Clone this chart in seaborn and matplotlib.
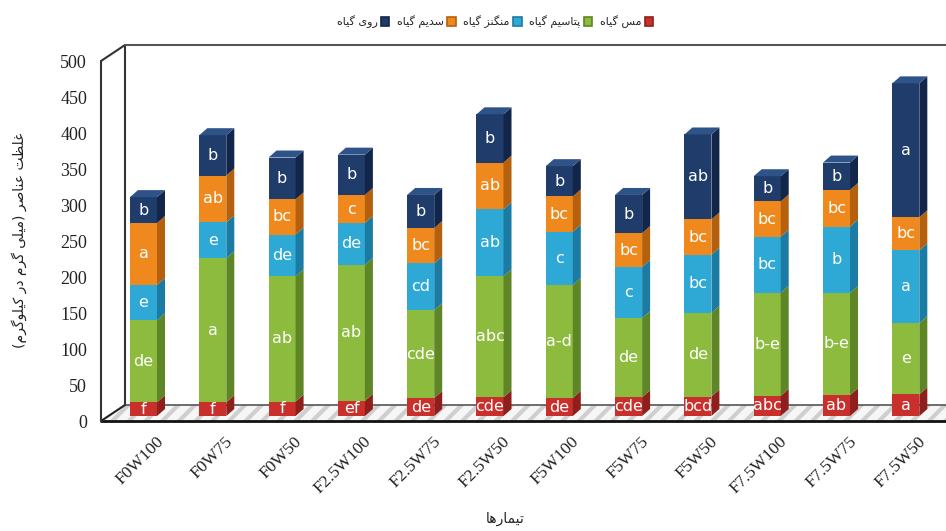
import numpy as np
import pandas as pd
import matplotlib
matplotlib.use("Agg")
import matplotlib.pyplot as plt
import seaborn as sns
from matplotlib.patches import Polygon, Patch
from matplotlib import transforms

# ---------------- data ----------------
categories = ["F0W100", "F0W75", "F0W50", "F2.5W100", "F2.5W75", "F2.5W50",
              "F5W100", "F5W75", "F5W50", "F7.5W100", "F7.5W75", "F7.5W50"]
cu = [19, 19, 20, 21, 25, 26, 25, 26, 27, 28, 29, 30]
k = [114, 200, 174, 189, 122, 168, 157, 110, 116, 143, 142, 99]
mn = [49, 50, 58, 58, 65, 93, 74, 71, 81, 78, 92, 101]
na = [86, 65, 49, 39, 49, 65, 49, 47, 49, 49, 51, 46]
zn = [36, 56, 58, 56, 46, 67, 42, 53, 118, 35, 38, 186]

cu_letters = ["f", "f", "f", "ef", "de", "cde", "de", "cde", "bcd", "abc", "ab", "a"]
k_letters = ["de", "a", "ab", "ab", "cde", "abc", "a-d", "de", "de", "b-e", "b-e", "e"]
mn_letters = ["e", "e", "de", "de", "cd", "ab", "c", "c", "bc", "bc", "b", "a"]
na_letters = ["a", "ab", "bc", "c", "bc", "ab", "bc", "bc", "bc", "bc", "bc", "bc"]
zn_letters = ["b", "b", "b", "b", "b", "b", "b", "b", "ab", "b", "b", "a"]

series_names = ["مس گیاه", "پتاسیم گیاه", "منگنز گیاه", "سدیم گیاه", "روی گیاه"]
y_ticks = [0, 50, 100, 150, 200, 250, 300, 350, 400, 450, 500]
y_title = "غلظت عناصر (میلی گرم در کیلوگرم)"
x_title = "تیمارها"

# ---------------- styles ----------------
front_colors = ["#C9302C", "#8CBB3E", "#2EA9D6", "#F0891D", "#1F3C6B"]
side_colors = ["#8F1F1C", "#5E8526", "#1C7BA3", "#B5600C", "#122649"]
top_color = "#2E5389"

# ---------------- Arabic-script shaping for display ----------------
FORMS = {
    'ا': ('\uFE8D', '\uFE8E', None, None),
    'د': ('\uFEA9', '\uFEAA', None, None),
    'ر': ('\uFEAD', '\uFEAE', None, None),
    'ز': ('\uFEAF', '\uFEB0', None, None),
    'و': ('\uFEED', '\uFEEE', None, None),
    'ت': ('\uFE95', '\uFE96', '\uFE97', '\uFE98'),
    'پ': ('\uFB56', '\uFB57', '\uFB58', '\uFB59'),
    'س': ('\uFEB1', '\uFEB2', '\uFEB3', '\uFEB4'),
    'ص': ('\uFEB9', '\uFEBA', '\uFEBB', '\uFEBC'),
    'ظ': ('\uFEC5', '\uFEC6', '\uFEC7', '\uFEC8'),
    'ع': ('\uFEC9', '\uFECA', '\uFECB', '\uFECC'),
    'غ': ('\uFECD', '\uFECE', '\uFECF', '\uFED0'),
    'ک': ('\uFB8E', '\uFB8F', '\uFB90', '\uFB91'),
    'گ': ('\uFB92', '\uFB93', '\uFB94', '\uFB95'),
    'ل': ('\uFEDD', '\uFEDE', '\uFEDF', '\uFEE0'),
    'م': ('\uFEE1', '\uFEE2', '\uFEE3', '\uFEE4'),
    'ن': ('\uFEE5', '\uFEE6', '\uFEE7', '\uFEE8'),
    'ه': ('\uFEE9', '\uFEEA', '\uFEEB', '\uFEEC'),
    'ی': ('\uFBFC', '\uFBFD', '\uFBFE', '\uFBFF'),
}


def shape(text):
    chars = list(text)
    out = []
    for i, c in enumerate(chars):
        if c not in FORMS:
            out.append(c)
            continue
        iso, fin, ini, med = FORMS[c]
        prev = chars[i - 1] if i > 0 else None
        nxt = chars[i + 1] if i + 1 < len(chars) else None
        jp = prev in FORMS and FORMS[prev][2] is not None
        jn = nxt in FORMS and ini is not None
        if jp and jn:
            out.append(med)
        elif jp:
            out.append(fin)
        elif jn:
            out.append(ini)
        else:
            out.append(iso)
    s = ''.join(out)[::-1]
    return s.translate(str.maketrans('()', ')('))


# ---------------- figure ----------------
sns.set_theme(style="white")
plt.rcParams['font.family'] = ['DejaVu Sans']
plt.rcParams['hatch.linewidth'] = 3.0

W, H = 946, 531
fig = plt.figure(figsize=(W / 100, H / 100), dpi=100)
ax_l, ax_r, ax_b, ax_t = 101, 946, 421, 61
ax = fig.add_axes([ax_l / W, (H - ax_b) / H, (ax_r - ax_l) / W, (ax_b - ax_t) / H])

df = pd.DataFrame({"treatment": categories, "cu": cu, "k": k, "mn": mn, "na": na, "zn": zn})
cols = ["cu", "k", "mn", "na", "zn"]
letters = [cu_letters, k_letters, mn_letters, na_letters, zn_letters]

bar_shift = transforms.ScaledTranslation(0, 0.05, fig.dpi_scale_trans)
bar_tr = ax.transData + bar_shift

bottoms = np.zeros(len(categories))
layers = []
for col, fc in zip(cols, front_colors):
    sns.barplot(data=df, x="treatment", y=col, order=categories, bottom=bottoms.copy(),
                color=fc, saturation=1, width=0.39, errorbar=None,
                edgecolor="none", linewidth=0, ax=ax, zorder=3)
    cont = ax.containers[-1]
    for p in cont:
        p.set_transform(bar_tr)
    layers.append((list(cont), bottoms.copy(), df[col].to_numpy()))
    bottoms = bottoms + df[col].to_numpy()

xmin, xmax = -0.613, 11.58
ax.set_xlim(xmin, xmax)
ax.set_ylim(0, 500)

# pixel -> data scale for the depth of bars
px_x = (ax_r - ax_l) / (xmax - xmin)
px_y = (ax_b - ax_t) / 500.0
ddx, ddy = 8 / px_x, 7 / px_y

for li, (patches, bots, vals) in enumerate(layers):
    for j, p in enumerate(patches):
        x0 = p.get_x()
        w = p.get_width()
        x1 = x0 + w
        y0 = bots[j]
        y1 = y0 + vals[j]
        side = Polygon([(x1, y0), (x1 + ddx, y0 + ddy), (x1 + ddx, y1 + ddy), (x1, y1)],
                       closed=True, facecolor=side_colors[li], edgecolor="none",
                       transform=bar_tr, zorder=3, clip_on=False)
        ax.add_patch(side)
        if li == len(layers) - 1:
            top = Polygon([(x0, y1), (x0 + ddx, y1 + ddy), (x1 + ddx, y1 + ddy), (x1, y1)],
                          closed=True, facecolor=top_color, edgecolor="none",
                          transform=bar_tr, zorder=3, clip_on=False)
            ax.add_patch(top)
        ax.text(x0 + w / 2, y0 + vals[j] / 2, letters[li][j], ha="center", va="center",
                color="white", fontsize=11.5, fontweight="medium", fontfamily="DejaVu Sans",
                transform=bar_tr, zorder=5)

# ---------------- pseudo 3D frame ----------------
for s in ax.spines.values():
    s.set_visible(False)
dx_a, dy_a = 24 / (ax_r - ax_l), 16 / (ax_b - ax_t)
floor = Polygon([(0, 0), (1, 0), (1 + dx_a, dy_a), (dx_a, dy_a)], closed=True,
                transform=ax.transAxes, facecolor="#f6f6f6", edgecolor="#cfcfcf",
                hatch="//", linewidth=0, zorder=1, clip_on=False)
ax.add_patch(floor)
line_kw = dict(transform=ax.transAxes, clip_on=False, zorder=2)
ax.plot([0, 1.05], [0, 0], color="#111111", lw=2.0, **line_kw)
ax.plot([dx_a, 1.05], [dy_a, dy_a], color="#555555", lw=1.2, **line_kw)
ax.plot([0, dx_a], [0, dy_a], color="#222222", lw=1.5, **line_kw)
ax.plot([0, 0], [0, 1], color="#333333", lw=1.5, **line_kw)
ax.plot([dx_a, dx_a], [dy_a, 1 + dy_a], color="#333333", lw=1.5, **line_kw)
ax.plot([0, dx_a], [1, 1 + dy_a], color="#333333", lw=1.5, **line_kw)
ax.plot([dx_a, 1.05], [1 + dy_a, 1 + dy_a], color="#555555", lw=1.5, **line_kw)

# ---------------- ticks & labels ----------------
ax.set_yticks(y_ticks)
ax.set_yticklabels([str(v) for v in y_ticks], fontfamily="Liberation Serif", fontsize=13, color="#222222")
ax.tick_params(axis="y", length=0, pad=10)
ax.set_xticks(range(len(categories)))
ax.set_xticklabels(categories, rotation=45, ha="right", rotation_mode="anchor",
                   fontfamily="Liberation Serif", fontsize=12.5, color="#222222")
ax.tick_params(axis="x", length=0, pad=9)
lab_shift = transforms.ScaledTranslation(0.12, 0, fig.dpi_scale_trans)
for lab in ax.get_xticklabels():
    lab.set_transform(lab.get_transform() + lab_shift)

ax.set_ylabel(shape(y_title), fontsize=10, color="#222222")
ax.yaxis.set_label_coords((27 - ax_l) / (ax_r - ax_l), (ax_b - 240) / (ax_b - ax_t))
ax.set_xlabel(shape(x_title), fontsize=10, color="#222222", va="center")
ax.xaxis.set_label_coords((505 - ax_l) / (ax_r - ax_l), (ax_b - 519) / (ax_b - ax_t))

# legend (right-to-left order, box on the right of each text)
handles = [Patch(facecolor=front_colors[i], edgecolor=side_colors[i], linewidth=1.2)
           for i in range(5)][::-1]
labels = [shape(n) for n in series_names][::-1]
fig.legend(handles, labels, loc="center", bbox_to_anchor=(495 / W, 1 - 22 / H), ncol=5,
           frameon=False, markerfirst=False, handlelength=0.75, handleheight=0.75,
           handletextpad=0.3, columnspacing=0.7, fontsize=8)

fig.savefig("out.png", dpi=100)
